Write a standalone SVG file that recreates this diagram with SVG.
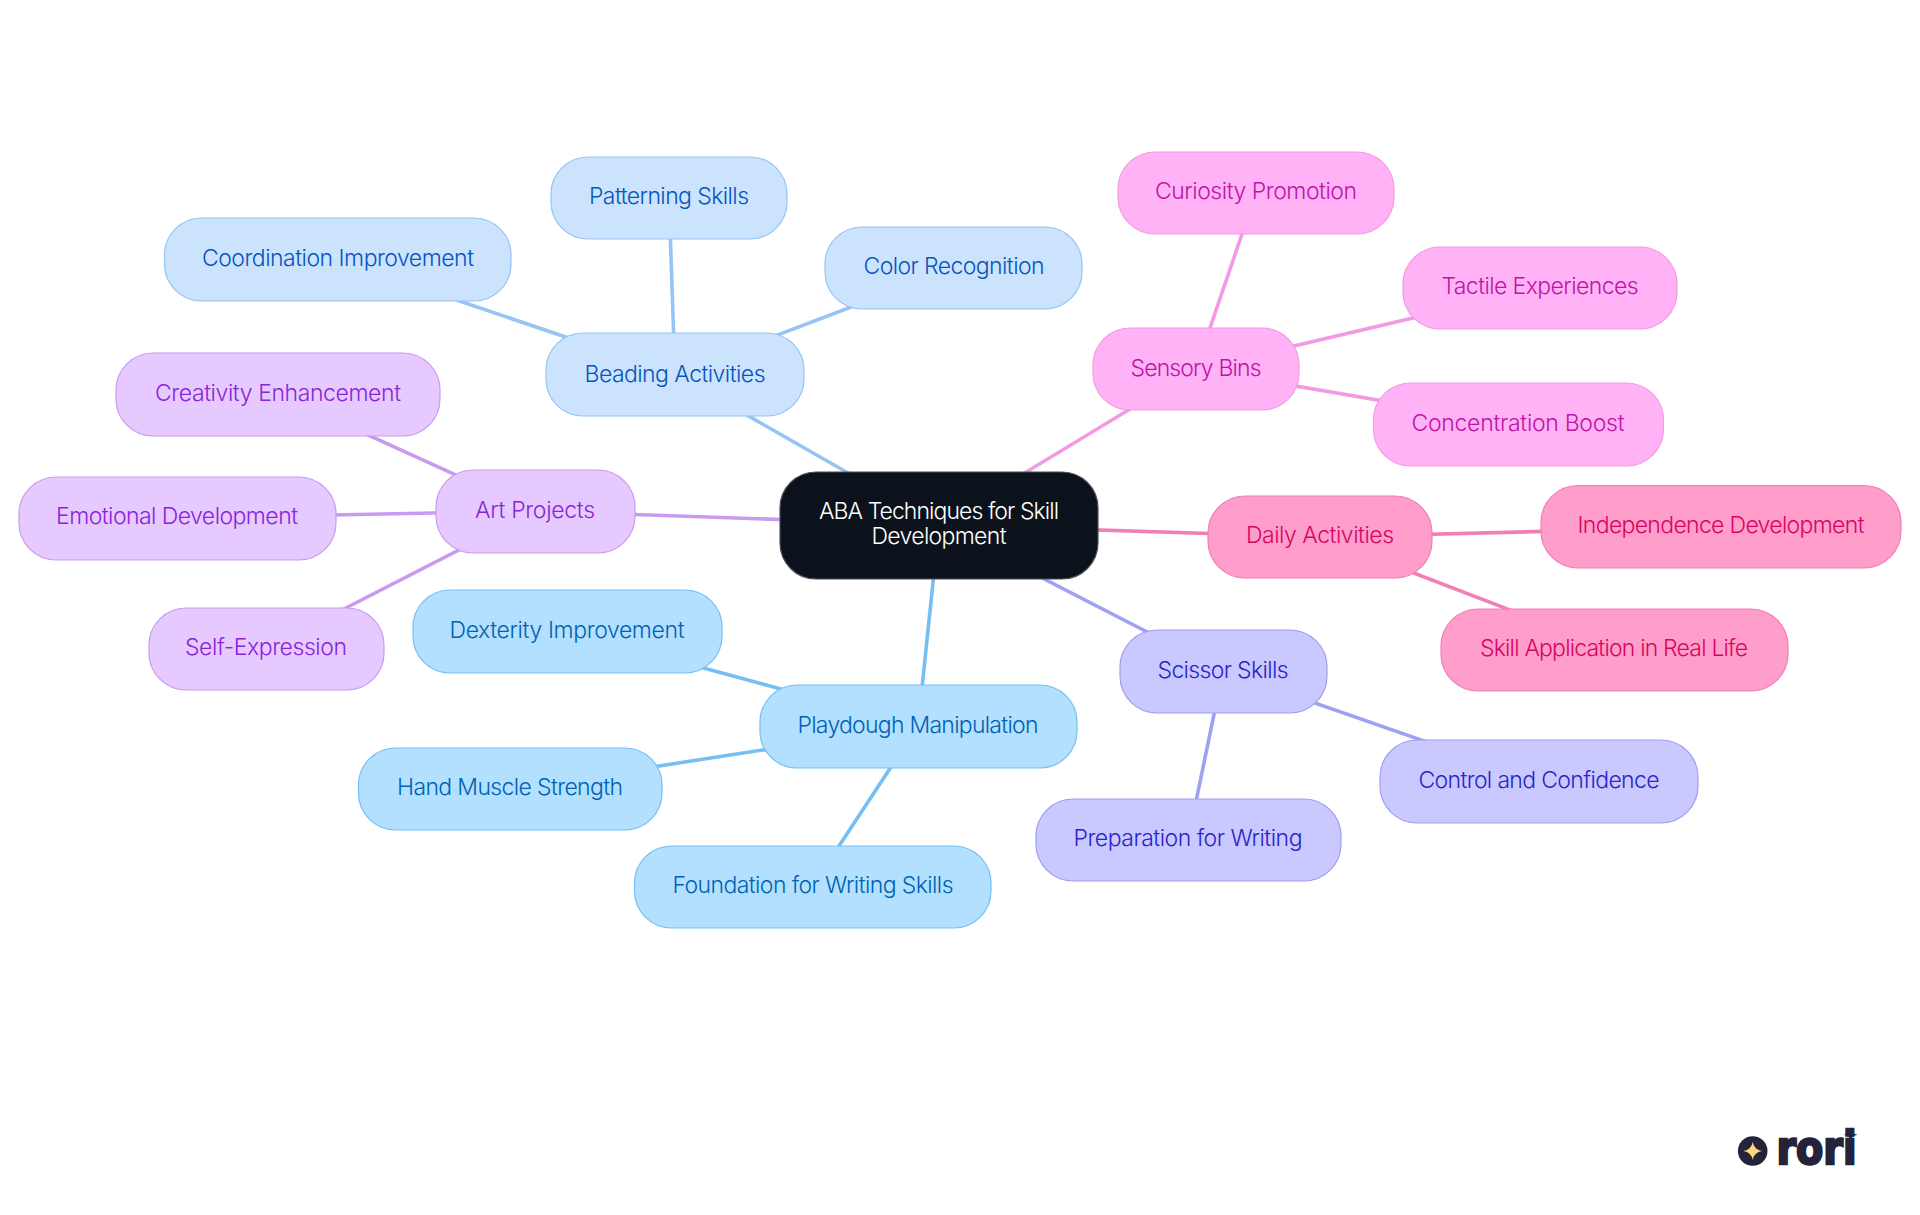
<svg xmlns="http://www.w3.org/2000/svg" width="1920" height="1215" viewBox="0 0 1920 1215">
<style>
text{font-family:"Inter","Liberation Sans",sans-serif;font-size:23px;font-weight:300;text-anchor:middle}
rect{stroke-width:1.2}
#connectors line{stroke-width:3.6;fill:none}
.root rect{fill:#0b121b;stroke:#4a4f57}.root text{fill:#fff}
.bead rect{fill:#cce3fd;stroke:#96c4f3}.bead text{fill:#0555bd}
.play rect{fill:#b3e0ff;stroke:#76bff3}.play text{fill:#0062b4}
.art rect{fill:#e6caff;stroke:#c99bf0}.art text{fill:#8a24dc}
.sci rect{fill:#c9c9ff;stroke:#9e9ef2}.sci text{fill:#2a24c8}
.sen rect{fill:#ffb3f6;stroke:#f39ae3}.sen text{fill:#c012a8}
.day rect{fill:#ff9ecb;stroke:#f07fb5}.day text{fill:#d80464}
.e-bead{stroke:#96c4f3}.e-play{stroke:#76bff3}.e-art{stroke:#c99bf0}.e-sci{stroke:#a0a0f5}.e-sen{stroke:#f39ae3}.e-day{stroke:#f07fb5}
</style>
<rect x="0" y="0" width="1920" height="1215" fill="#ffffff" stroke="none"/>
<g id="connectors">
<line class="e-bead" x1="939" y1="525" x2="675" y2="374"/>
<line class="e-bead" x1="675" y1="374" x2="669" y2="198"/>
<line class="e-bead" x1="675" y1="374" x2="954" y2="268"/>
<line class="e-bead" x1="675" y1="374" x2="338" y2="260"/>
<line class="e-art" x1="939" y1="525" x2="535" y2="511"/>
<line class="e-art" x1="535" y1="511" x2="278" y2="394"/>
<line class="e-art" x1="535" y1="511" x2="177" y2="518"/>
<line class="e-art" x1="535" y1="511" x2="266" y2="649"/>
<line class="e-play" x1="939" y1="525" x2="918" y2="726"/>
<line class="e-play" x1="918" y1="726" x2="567" y2="631"/>
<line class="e-play" x1="918" y1="726" x2="510" y2="789"/>
<line class="e-play" x1="918" y1="726" x2="812" y2="887"/>
<line class="e-sci" x1="939" y1="525" x2="1223" y2="671"/>
<line class="e-sci" x1="1223" y1="671" x2="1539" y2="781"/>
<line class="e-sci" x1="1223" y1="671" x2="1188" y2="840"/>
<line class="e-sen" x1="939" y1="525" x2="1196" y2="369"/>
<line class="e-sen" x1="1196" y1="369" x2="1256" y2="193"/>
<line class="e-sen" x1="1196" y1="369" x2="1540" y2="288"/>
<line class="e-sen" x1="1196" y1="369" x2="1518" y2="424"/>
<line class="e-day" x1="939" y1="525" x2="1320" y2="537"/>
<line class="e-day" x1="1320" y1="537" x2="1721" y2="527"/>
<line class="e-day" x1="1320" y1="537" x2="1614" y2="650"/>
</g>
<g id="root" class="root"><rect x="780" y="472" width="318" height="107" rx="36"/><text x="939" y="519" textLength="240">ABA Techniques for Skill</text><text x="939" y="544" textLength="135">Development</text></g>
<g id="beading" class="bead"><rect x="546" y="333" width="258" height="83" rx="37"/><text x="675" y="382" textLength="181">Beading Activities</text></g>
<g id="patterning" class="bead"><rect x="551" y="157" width="236" height="82" rx="37"/><text x="669" y="204" textLength="160">Patterning Skills</text></g>
<g id="color" class="bead"><rect x="825" y="227" width="257" height="82" rx="37"/><text x="954" y="274" textLength="181">Color Recognition</text></g>
<g id="coordination" class="bead"><rect x="164.500" y="218" width="346.500" height="83" rx="37"/><text x="338" y="266" textLength="272">Coordination Improvement</text></g>
<g id="art" class="art"><rect x="436" y="470" width="199" height="83" rx="37"/><text x="535" y="518" textLength="120">Art Projects</text></g>
<g id="creativity" class="art"><rect x="116" y="353" width="324" height="83" rx="37"/><text x="278" y="401" textLength="246">Creativity Enhancement</text></g>
<g id="emotional" class="art"><rect x="19" y="477" width="317" height="83" rx="37"/><text x="177" y="524" textLength="242">Emotional Development</text></g>
<g id="self" class="art"><rect x="149" y="608" width="235" height="82" rx="37"/><text x="266" y="655" textLength="162">Self-Expression</text></g>
<g id="playdough" class="play"><rect x="760" y="685" width="317" height="83" rx="37"/><text x="918" y="733" textLength="241">Playdough Manipulation</text></g>
<g id="dexterity" class="play"><rect x="413" y="590" width="309" height="83" rx="37"/><text x="567" y="638" textLength="235">Dexterity Improvement</text></g>
<g id="hand" class="play"><rect x="358.500" y="748" width="303.500" height="82" rx="37"/><text x="510" y="795" textLength="226">Hand Muscle Strength</text></g>
<g id="foundation" class="play"><rect x="634.500" y="846" width="356.500" height="82" rx="37"/><text x="813" y="893" textLength="281">Foundation for Writing Skills</text></g>
<g id="scissor" class="sci"><rect x="1120" y="630" width="207" height="83" rx="37"/><text x="1223" y="678" textLength="131">Scissor Skills</text></g>
<g id="control" class="sci"><rect x="1380" y="740" width="318" height="83" rx="37"/><text x="1539" y="788" textLength="241">Control and Confidence</text></g>
<g id="preparation" class="sci"><rect x="1036" y="799" width="305" height="82" rx="37"/><text x="1188" y="846" textLength="229">Preparation for Writing</text></g>
<g id="sensory" class="sen"><rect x="1093" y="328" width="206" height="82" rx="37"/><text x="1196" y="376" textLength="131">Sensory Bins</text></g>
<g id="curiosity" class="sen"><rect x="1118" y="152" width="276" height="82" rx="37"/><text x="1256" y="199" textLength="202">Curiosity Promotion</text></g>
<g id="tactile" class="sen"><rect x="1403" y="247" width="274" height="82" rx="37"/><text x="1540" y="294" textLength="197">Tactile Experiences</text></g>
<g id="concentration" class="sen"><rect x="1373.500" y="383" width="290" height="83" rx="37"/><text x="1518" y="431" textLength="213">Concentration Boost</text></g>
<g id="daily" class="day"><rect x="1208" y="496" width="224" height="82" rx="37"/><text x="1320" y="543" textLength="148">Daily Activities</text></g>
<g id="independence" class="day"><rect x="1541" y="485.500" width="360" height="82.500" rx="37"/><text x="1721" y="533" textLength="287">Independence Development</text></g>
<g id="application" class="day"><rect x="1441" y="609" width="347" height="82" rx="37"/><text x="1614" y="656" textLength="268">Skill Application in Real Life</text></g>
<g id="logo">
<circle cx="1752.700" cy="1151" r="14.800" fill="#24233a"/>
<path d="M1752.700 1142Q1754 1149.700 1762 1151Q1754 1152.300 1752.700 1160Q1751.400 1152.300 1743.400 1151Q1751.400 1149.700 1752.700 1142Z" fill="#fcd581"/>
<path d="M1850.700 1128Q1851.500 1134 1857.500 1134.700Q1851.500 1135.400 1850.700 1141.500Q1849.900 1135.400 1843.900 1134.700Q1849.900 1134 1850.700 1128Z" fill="#24233a"/>
<text x="1816.500" y="1164" textLength="80" lengthAdjust="spacingAndGlyphs" style="font-family:'DejaVu Sans',sans-serif;font-weight:700;font-size:46px;fill:#24233a;stroke:#24233a;stroke-width:2.500">rori</text>
</g>
</svg>
